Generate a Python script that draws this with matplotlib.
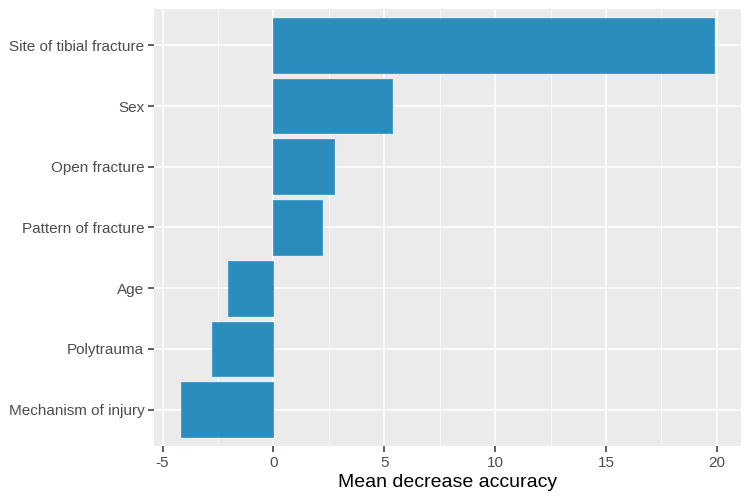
import matplotlib
matplotlib.use("Agg")
import matplotlib.pyplot as plt
from matplotlib.ticker import MultipleLocator

plt.rcParams['font.family'] = ['Liberation Sans', 'DejaVu Sans']
plt.rcParams['axes.unicode_minus'] = False

# variables, bottom to top
variables = ['Mechanism of injury', 'Polytrauma', 'Age', 'Pattern of fracture',
             'Open fracture', 'Sex', 'Site of tibial fracture']
importance = [-4.19, -2.75, -2.06, 2.18, 2.71, 5.34, 19.88]

fig = plt.figure(figsize=(7.5, 5), dpi=100)
ax = fig.add_axes([0.2053, 0.108, 0.7823, 0.874])
ax.set_facecolor('#EBEBEB')

pos = range(1, len(variables) + 1)
ax.barh(pos, importance, height=0.9, color='#2B8CBE', edgecolor='#3E98C8',
        linewidth=0.6, zorder=3)

ax.set_xlim(-5.39, 21.08)
ax.set_ylim(0.4, len(variables) + 0.6)
ax.set_yticks(list(pos))
ax.set_yticklabels(variables)
ax.xaxis.set_major_locator(MultipleLocator(5))
ax.xaxis.set_minor_locator(MultipleLocator(2.5))

ax.grid(which='major', color='white', linewidth=1.1, zorder=0)
ax.grid(which='minor', axis='x', color='white', linewidth=0.5, zorder=0)
ax.set_axisbelow(True)
for s in ax.spines.values():
    s.set_visible(False)

ax.tick_params(which='major', length=4, width=1.1, color='#333333',
               labelcolor='#4D4D4D', labelsize=11, pad=3)
ax.tick_params(which='minor', length=0)
ax.set_xlabel('Mean decrease accuracy', fontsize=14, color='black', labelpad=3)

fig.savefig('out.png', dpi=100)
